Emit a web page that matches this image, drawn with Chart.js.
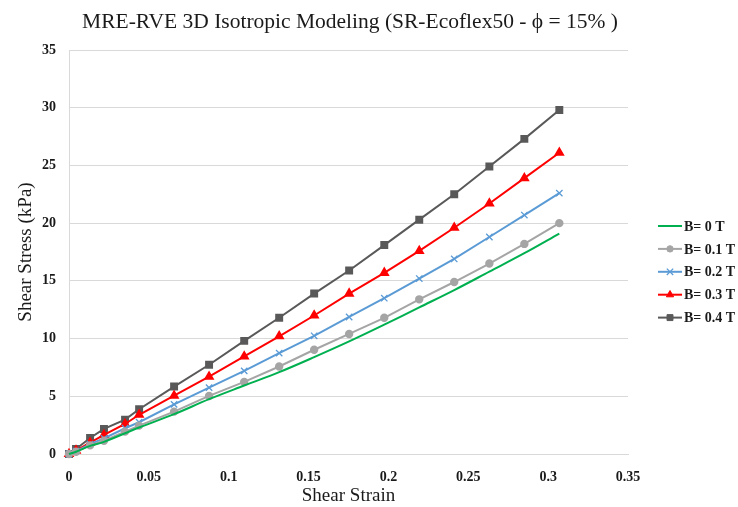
<!DOCTYPE html>
<html>
<head>
<meta charset="utf-8">
<script src="https://cdn.jsdelivr.net/npm/chart.js@4.4.0/dist/chart.umd.min.js"></script>
<style>
  html, body { margin: 0; padding: 0; background: #ffffff; }
  #wrap { width: 738px; height: 507px; }
</style>
</head>
<body>
<div id="wrap"><canvas id="chart" width="738" height="507"></canvas></div>
<script>
// Shear strain at each simulation step
const strain = [0, 0.0044, 0.0132, 0.0219, 0.0351, 0.0439, 0.0658, 0.0877, 0.1097, 0.1316,
                0.1535, 0.1754, 0.1974, 0.2193, 0.2412, 0.2632, 0.2851, 0.307];

// Shear stress (kPa) for each applied magnetic field
const stressB00 = [0, 0.2, 0.7, 1.05, 1.8, 2.3, 3.45, 4.75, 5.93, 7.09, 8.39, 9.75, 11.2, 12.7, 14.2, 15.8, 17.4, 19.1];
const stressB01 = [0, 0.2, 0.75, 1.15, 1.94, 2.46, 3.67, 5.03, 6.25, 7.58, 9.03, 10.4, 11.8, 13.4, 14.9, 16.5, 18.2, 20.0];
const stressB02 = [0, 0.25, 0.85, 1.36, 2.23, 2.75, 4.3, 5.75, 7.2, 8.74, 10.24, 11.87, 13.5, 15.2, 16.9, 18.8, 20.7, 22.6];
const stressB03 = [0, 0.3, 0.98, 1.65, 2.6, 3.4, 5.06, 6.7, 8.45, 10.2, 12.0, 13.9, 15.7, 17.6, 19.6, 21.7, 23.9, 26.1];
const stressB04 = [0, 0.43, 1.39, 2.17, 2.98, 3.88, 5.84, 7.73, 9.8, 11.8, 13.9, 15.9, 18.1, 20.3, 22.5, 24.9, 27.3, 29.8];

const seriesLabels = ['B= 0 T', 'B= 0.1 T', 'B= 0.2 T', 'B= 0.3 T', 'B= 0.4 T'];
const xTicks = [0, 0.05, 0.1, 0.15, 0.2, 0.25, 0.3, 0.35];
const yTicks = [0, 5, 10, 15, 20, 25, 30, 35];

const chartTitle = 'MRE-RVE 3D Isotropic Modeling (SR-Ecoflex50 - \u03D5 = 15% )';
const xTitle = 'Shear Strain';
const yTitle = 'Shear Stress (kPa)';

const serif = "'Liberation Serif', 'Times New Roman', serif";
const textColor = '#1a1a1a';
const gridColor = '#d9d9d9';

const pairs = (ys) => strain.map((x, i) => ({ x: x, y: ys[i] }));

const datasets = [
  { label: seriesLabels[0], data: pairs(stressB00), borderColor: '#00b050', backgroundColor: '#00b050',
    pointRadius: 0, pointStyle: false, borderWidth: 2, tension: 0.35, clip: false },
  { label: seriesLabels[1], data: pairs(stressB01), borderColor: '#a5a5a5', backgroundColor: '#a5a5a5',
    pointStyle: 'circle', pointRadius: 3.2, borderWidth: 2, clip: false },
  { label: seriesLabels[2], data: pairs(stressB02), borderColor: '#5b9bd5', backgroundColor: '#5b9bd5',
    pointStyle: 'crossRot', pointRadius: 4.5, pointBorderWidth: 1.3, borderWidth: 2, clip: false },
  { label: seriesLabels[3], data: pairs(stressB03), borderColor: '#ff0000', backgroundColor: '#ff0000',
    pointStyle: 'triangle', pointRadius: 4.2, borderWidth: 2, clip: false },
  { label: seriesLabels[4], data: pairs(stressB04), borderColor: '#595959', backgroundColor: '#595959',
    pointStyle: 'rect', pointRadius: 4.2, borderWidth: 2, clip: false }
];

// Title drawn centred over the plot
const headline = {
  id: 'headline',
  afterDraw(chart) {
    const ctx = chart.ctx;
    ctx.save();
    ctx.fillStyle = textColor;
    ctx.font = '21.5px ' + serif;
    ctx.textAlign = 'center';
    ctx.textBaseline = 'middle';
    ctx.fillText(chartTitle, 350, 22);
    ctx.restore();
  }
};

// Legend on the right: line sample with marker, then bold label
const seriesKey = {
  id: 'seriesKey',
  afterDraw(chart) {
    const ctx = chart.ctx;
    const x0 = 658, x1 = 682, top = 226, step = 22.9;
    chart.data.datasets.forEach((ds, i) => {
      const y = top + i * step;
      ctx.save();
      ctx.strokeStyle = ds.borderColor;
      ctx.lineWidth = 2;
      ctx.beginPath();
      ctx.moveTo(x0, y);
      ctx.lineTo(x1, y);
      ctx.stroke();
      if (ds.pointStyle) {
        ctx.fillStyle = ds.backgroundColor;
        ctx.strokeStyle = ds.borderColor;
        ctx.lineWidth = ds.pointBorderWidth || 1;
        Chart.helpers.drawPoint(ctx, { pointStyle: ds.pointStyle, radius: ds.pointRadius, borderWidth: ds.pointBorderWidth || 1 }, (x0 + x1) / 2, y);
      }
      ctx.fillStyle = textColor;
      ctx.font = 'bold 14px ' + serif;
      ctx.textAlign = 'left';
      ctx.textBaseline = 'middle';
      ctx.fillText(ds.label, 684, y + 1);
      ctx.restore();
    });
  }
};

new Chart(document.getElementById('chart'), {
  type: 'line',
  data: { datasets: datasets },
  options: {
    responsive: false,
    animation: false,
    layout: { padding: { top: 50, right: 110, bottom: 0, left: 0 } },
    plugins: {
      legend: { display: false },
      title: { display: false },
      tooltip: { enabled: false }
    },
    scales: {
      x: {
        type: 'linear',
        min: 0,
        max: 0.35,
        afterFit(scale) { scale.height = 53; },
        afterBuildTicks(scale) { scale.ticks = xTicks.map(v => ({ value: v })); },
        ticks: {
          padding: 15,
          color: textColor,
          font: { family: serif, size: 14, weight: 'bold' },
          callback: (v) => String(Number(v.toFixed(2)))
        },
        grid: { display: false, drawTicks: false },
        border: { display: true, color: gridColor, width: 1 },
        title: {
          display: true,
          text: xTitle,
          color: textColor,
          font: { family: serif, size: 19 },
          lineHeight: 0.7,
          padding: { top: 0, bottom: 0 }
        }
      },
      y: {
        type: 'linear',
        min: 0,
        max: 35,
        afterFit(scale) { scale.width = 69; },
        afterBuildTicks(scale) { scale.ticks = yTicks.map(v => ({ value: v })); },
        ticks: {
          padding: 13,
          color: textColor,
          font: { family: serif, size: 14, weight: 'bold' }
        },
        grid: { color: gridColor, lineWidth: 1, drawTicks: false },
        border: { display: true, color: gridColor, width: 1 },
        title: {
          display: true,
          text: yTitle,
          color: textColor,
          font: { family: serif, size: 19 },
          lineHeight: 1,
          padding: { top: 15, bottom: 0 }
        }
      }
    }
  },
  plugins: [headline, seriesKey]
});
</script>
</body>
</html>
